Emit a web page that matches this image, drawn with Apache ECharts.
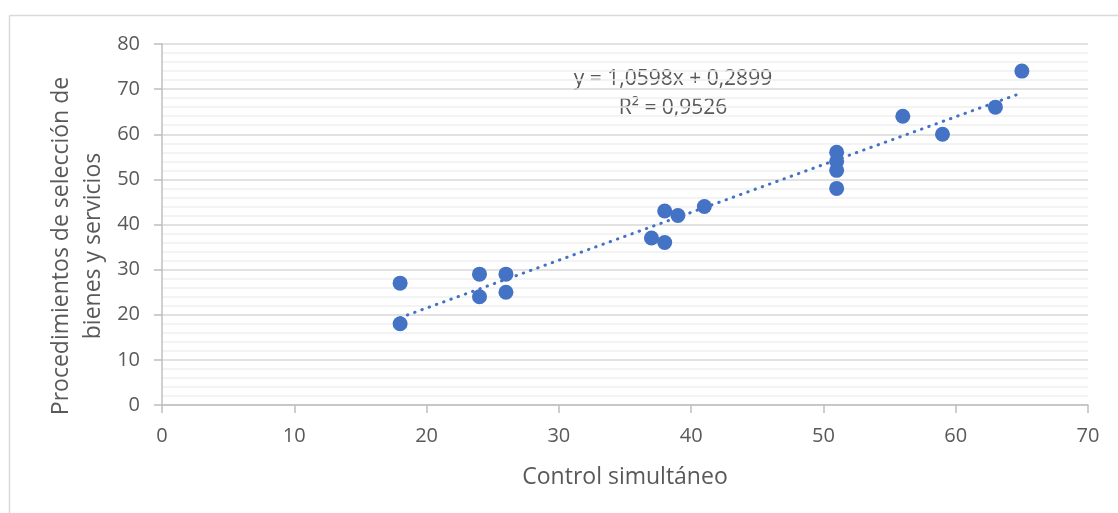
<!DOCTYPE html>
<html>
<head>
<meta charset="utf-8">
<script src="https://cdn.jsdelivr.net/npm/echarts@6/dist/echarts.min.js"></script>
<style>
html,body{margin:0;padding:0;background:#fff;}
#chart{width:1118px;height:513px;}
</style>
</head>
<body>
<div id="chart"></div>
<script>
// Data
const xValues = [18, 18, 24, 24, 26, 26, 37, 38, 38, 39, 41, 51, 51, 51, 51, 56, 59, 63, 65];
const yValues = [27, 18, 29, 24, 29, 25, 37, 43, 36, 42, 44, 56, 54, 52, 48, 64, 60, 66, 74];
const xTicks = [0, 10, 20, 30, 40, 50, 60, 70];
const yTicks = [0, 10, 20, 30, 40, 50, 60, 70, 80];
// Trendline as printed on the chart
const trendSlope = 1.0598;
const trendIntercept = 0.2899;
const trendLabel = ['y = 1,0598x + 0,2899', 'R² = 0,9526'];
const xTitle = 'Control simultáneo';
const yTitle = 'Procedimientos de selección de\nbienes y servicios';

const points = xValues.map((x, i) => [x, yValues[i]]);
const xMinData = Math.min(...xValues), xMaxData = Math.max(...xValues);
const trend = [xMinData, xMaxData].map(x => [x, trendSlope * x + trendIntercept]);

const font = "'Open Sans', sans-serif";
const txt = '#595959';
const chart = echarts.init(document.getElementById('chart'));
chart.setOption({
  animation: false,
  backgroundColor: '#fff',
  textStyle: {fontFamily: font},
  grid: {left: 162, top: 44, right: 30, bottom: 108},
  xAxis: {
    type: 'value', min: xTicks[0], max: xTicks[xTicks.length-1], interval: 10,
    name: xTitle, nameLocation: 'middle', nameGap: 61,
    nameTextStyle: {fontFamily: font, fontSize: 23, color: txt},
    axisLine: {show: true, onZero: false, lineStyle: {color: '#bfbfbf', width: 1.5}},
    axisTick: {show: true, inside: false, length: 8, lineStyle: {color: '#bfbfbf', width: 1.5}},
    axisLabel: {fontFamily: font, fontSize: 20, color: txt, margin: 21},
    splitLine: {show: false}
  },
  yAxis: {
    type: 'value', min: yTicks[0], max: yTicks[yTicks.length-1], interval: 10,
    axisLine: {show: true, onZero: false, lineStyle: {color: '#bfbfbf', width: 1.5}},
    axisTick: {show: true, inside: false, length: 8, lineStyle: {color: '#bfbfbf', width: 1.5}},
    axisLabel: {fontFamily: font, fontSize: 20, color: txt, margin: 22},
    splitLine: {show: true, lineStyle: {color: '#d9d9d9', width: 1.5}},
    minorTick: {show: true, splitNumber: 5, length: 0},
    minorSplitLine: {show: true, lineStyle: {color: '#f0f0f0', width: 1.5}}
  },
  series: [
    {
      type: 'line', data: trend, symbol: 'none', silent: true, z: 3,
      lineStyle: {color: '#4472C4', width: 3, type: [0.5, 7.2], cap: 'round'}
    },
    {
      type: 'scatter', data: points, symbol: 'circle', symbolSize: 15, z: 4,
      itemStyle: {color: '#4472C4', opacity: 1}
    }
  ],
  graphic: [
    {type: 'line', shape: {x1: 9.5, y1: 15.5, x2: 1118, y2: 15.5}, style: {stroke: '#d9d9d9', lineWidth: 1.5}},
    {type: 'line', shape: {x1: 9.5, y1: 15.5, x2: 9.5, y2: 513}, style: {stroke: '#d9d9d9', lineWidth: 1.5}},
    {type: 'text', x: 77, y: 246, rotation: Math.PI / 2,
     style: {text: yTitle, font: "23px 'Open Sans', sans-serif", lineHeight: 32, fill: txt, align: 'center', verticalAlign: 'middle'}},
    {type: 'text', x: 673, y: 79, style: {text: trendLabel[0], font: "21px 'Open Sans', sans-serif", fill: txt, align: 'center', verticalAlign: 'middle'}},
    {type: 'text', x: 673, y: 108, style: {text: trendLabel[1], font: "21px 'Open Sans', sans-serif", fill: txt, align: 'center', verticalAlign: 'middle'}}
  ]
});
</script>
</body>
</html>
